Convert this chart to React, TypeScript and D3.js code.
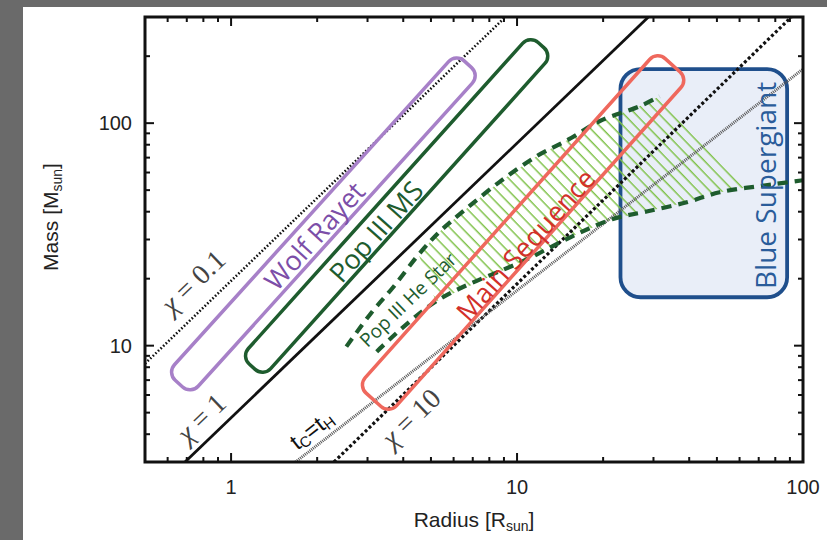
import React from "react";
import * as d3 from "d3";

// axis ticks
const xMajor = [1, 10, 100];
const xMinor = [0.6, 0.7, 0.8, 0.9, 2, 3, 4, 5, 6, 7, 8, 9, 20, 30, 40, 50, 60, 70, 80, 90];
const yMajor = [10, 100];
const yMinor = [4, 5, 6, 7, 8, 9, 20, 30, 40, 50, 60, 70, 80, 90, 200];
const xTickLabels = ["1", "10", "100"];
const yTickLabels = ["10", "100"];

// reference lines [radius, mass]
const chi01 = [[0.5, 8.3], [9.1, 300]];
const chi1 = [[0.69, 3], [28.8, 300]];
const chi10 = [[2.29, 3], [91, 300]];
const tcth = [[1.68, 3], [100, 175]];

// Pop III He star tracks
const heUpper = [[2.53, 9.9], [3.1, 14.1], [3.7, 18.4], [4.53, 25.7], [5.33, 32.3], [6.41, 39.7], [8.65, 54.2], [11.7, 71], [15.2, 84.7], [19.4, 102], [26.8, 119], [31.5, 132]];
const heLower = [[3.23, 9.4], [5.2, 15.8], [10.8, 24.4], [15.6, 31], [21.5, 37], [28.4, 40.1], [39.2, 44.1], [51.1, 48.9], [78.5, 53.1], [100, 55.4]];
const hatchUpper = [[4.53, 25.7], [5.33, 32.3], [6.41, 39.7], [8.65, 54.2], [11.7, 71], [15.2, 84.7], [19.4, 102], [26.8, 119], [31.5, 132]];
const hatchLower = [[5.2, 15.8], [10.8, 24.4], [15.6, 31], [21.5, 37], [28.4, 40.1], [39.2, 44.1], [51.1, 48.9], [62.8, 51.2]];

// stellar classes: box ends along the diagonal [radius, mass]
const boxNames = ["Wolf Rayet", "Pop III MS", "Main Sequence"];
const boxStart = [[0.657, 6.75], [1.185, 8.04], [3.15, 5.71]];
const boxEnd = [[6.73, 184], [12.14, 224], [35.0, 182]];
const boxLabelAt = [[1.95, 31.3], [3.2, 32.7], [10.67, 28.5]];

// blue supergiant region
const bsgR = [23, 88];
const bsgM = [16.5, 175];

const W = 827, H = 540;
const L = 145, R = 803, T = 17, B = 462;
const x = d3.scaleLog().domain([0.5, 100]).range([L, R]);
const y = d3.scaleLog().domain([3, 300]).range([B, T]);
const px = (d: number[]) => [x(d[0]), y(d[1])];
const line = d3.line<number[]>().x(d => x(d[0])).y(d => y(d[1]));
const curve = d3.line<number[]>().x(d => x(d[0])).y(d => y(d[1])).curve(d3.curveCatmullRom);

function DiagBox({ a, b, h, color }: { a: number[]; b: number[]; h: number; color: string }) {
  const [x1, y1] = px(a);
  const [x2, y2] = px(b);
  const len = Math.hypot(x2 - x1, y2 - y1);
  const ang = (Math.atan2(y2 - y1, x2 - x1) * 180) / Math.PI;
  return <rect x={0} y={-h} width={len} height={2 * h} rx={11} fill="none" stroke={color} strokeWidth={3.5}
    transform={`translate(${x1},${y1}) rotate(${ang})`} />;
}

const boxColors = ["#a780c8", "#1e5c2e", "#ef685d"];
const textColors = ["#7c4ea8", "#1e5c2e", "#d2302a"];
const boxHalf = [16, 15, 21];

export default function App() {
  const sans = "Liberation Sans, Arial, sans-serif";
  const label = "Open Sans, sans-serif";
  const serif = "Liberation Serif, DejaVu Serif, serif";
  const hatchPoly = line([...hatchUpper, ...hatchLower.slice().reverse()]) + "Z";

  const rot = (p: number[], q: number[]) => {
    const [a1, b1] = px(p), [a2, b2] = px(q);
    return (Math.atan2(b2 - b1, a2 - a1) * 180) / Math.PI;
  };
  const chiAng = rot(chi1[0], chi1[1]);
  const tcAng = rot(tcth[0], tcth[1]);

  return (
    <div style={{ position: "absolute", left: 0, top: 0 }}>
      <svg width={W} height={H} style={{ display: "block" }}>
        <defs>
          <clipPath id="plot"><rect x={L} y={T} width={R - L} height={B - T} /></clipPath>
          <pattern id="hatch" width={8.5} height={10} patternUnits="userSpaceOnUse" patternTransform="rotate(-44)">
            <line x1={4} y1={0} x2={4} y2={10} stroke="#80c24a" strokeWidth={1.5} />
          </pattern>
        </defs>
        <rect width={W} height={H} fill="#6a6a6a" />
        <rect x={23} y={7} width={W - 23} height={H - 7} fill="#fff" />

        <g clipPath="url(#plot)">
          <rect x={x(bsgR[0])} y={y(bsgM[1])} width={x(bsgR[1]) - x(bsgR[0])} height={y(bsgM[0]) - y(bsgM[1])}
            rx={20} fill="#e9eef8" stroke="#1f4f8c" strokeWidth={3.8} />
          <path d={hatchPoly} fill="url(#hatch)" />
          <path d={line(chi01)!} stroke="#111" strokeWidth={2.6} strokeDasharray="1.6 2" fill="none" />
          <path d={line(chi1)!} stroke="#111" strokeWidth={2.8} fill="none" />
          <path d={line(chi10)!} stroke="#111" strokeWidth={3.2} strokeDasharray="3 2.4" fill="none" />
          <path d={line(tcth)!} stroke="#555" strokeWidth={3} strokeDasharray="1 1" fill="none" />
          <path d={curve(heUpper)!} stroke="#1e5c2e" strokeWidth={4.2} strokeDasharray="10 7" fill="none" />
          <path d={curve(heLower)!} stroke="#1e5c2e" strokeWidth={4.2} strokeDasharray="10 7" fill="none" />
          {boxNames.map((n, i) => (
            <DiagBox key={n} a={boxStart[i]} b={boxEnd[i]} h={boxHalf[i]} color={boxColors[i]} />
          ))}
        </g>

        {boxNames.map((n, i) => {
          const [cx, cy] = px(boxLabelAt[i]);
          return (
            <text key={n} x={cx} y={cy} transform={`rotate(${rot(boxStart[i], boxEnd[i])},${cx},${cy})`}
              textAnchor="middle" dominantBaseline="central" fontFamily={label} fontSize={27} fill={textColors[i]}>{n}</text>
          );
        })}
        {(() => {
          const [cx, cy] = px([4.15, 16.1]);
          return <text x={cx} y={cy} transform={`rotate(-44,${cx},${cy})`} textAnchor="middle"
            dominantBaseline="central" fontFamily={label} fontSize={19} fill="#1e5c2e">Pop III He Star</text>;
        })()}
        {(() => {
          const cx = x(73.6), cy = y(52.5);
          return <text x={cx} y={cy} transform={`rotate(-90,${cx},${cy})`} textAnchor="middle" dominantBaseline="central"
            fontFamily={label} fontSize={28} fill="#2a5c9a">Blue Supergiant</text>;
        })()}

        {[["0.1", 0.736, 19.4], ["1", 0.785, 4.74], ["10", 4.25, 4.74]].map(([v, r, m]) => {
          const cx = x(+r), cy = y(+m);
          return (
            <text key={v as string} x={cx} y={cy} transform={`rotate(${chiAng},${cx},${cy})`} textAnchor="middle"
              dominantBaseline="central" fontFamily={serif} fontSize={28} fill="#444" xmlSpace="preserve">
              <tspan fontStyle="italic">χ</tspan>{" = "}{v}
            </text>
          );
        })}
        {(() => {
          const cx = x(1.91), cy = y(4.19);
          return (
            <text x={cx} y={cy} transform={`rotate(${tcAng},${cx},${cy})`} textAnchor="middle" dominantBaseline="central"
              fontFamily={sans} fontSize={23} fill="#111">
              t<tspan fontSize={15} dy={5}>C</tspan><tspan dy={-5}>=t</tspan><tspan fontSize={15} dy={5}>H</tspan>
            </text>
          );
        })()}

        {/* frame and ticks */}
        <rect x={L} y={T} width={R - L} height={B - T} fill="none" stroke="#111" strokeWidth={3} />
        <g stroke="#111" strokeWidth={2}>
          {xMajor.map(v => (<g key={"xM" + v}>
            <line x1={x(v)} x2={x(v)} y1={B} y2={B - 9} /><line x1={x(v)} x2={x(v)} y1={T} y2={T + 9} /></g>))}
          {xMinor.map(v => (<g key={"xm" + v}>
            <line x1={x(v)} x2={x(v)} y1={B} y2={B - 5} /><line x1={x(v)} x2={x(v)} y1={T} y2={T + 5} /></g>))}
          {yMajor.map(v => (<g key={"yM" + v}>
            <line y1={y(v)} y2={y(v)} x1={L} x2={L + 9} /><line y1={y(v)} y2={y(v)} x1={R} x2={R - 9} /></g>))}
          {yMinor.map(v => (<g key={"ym" + v}>
            <line y1={y(v)} y2={y(v)} x1={L} x2={L + 5} /><line y1={y(v)} y2={y(v)} x1={R} x2={R - 5} /></g>))}
        </g>
        <g fontFamily={sans} fontSize={20} fill="#222">
          {xMajor.map((v, i) => (
            <text key={"xl" + v} x={x(v)} y={B + 32} textAnchor="middle">{xTickLabels[i]}</text>))}
          {yMajor.map((v, i) => (
            <text key={"yl" + v} x={L - 13} y={y(v)} textAnchor="end" dominantBaseline="central">{yTickLabels[i]}</text>))}
          <g fontSize={21}>
            <text x={474} y={527} textAnchor="middle">Radius [R<tspan fontSize={14} dy={4}>sun</tspan><tspan dy={-4}>]</tspan></text>
            <text transform="translate(58,217) rotate(-90)" textAnchor="middle">Mass [M<tspan fontSize={14} dy={4}>sun</tspan><tspan dy={-4}>]</tspan></text>
          </g>
        </g>
      </svg>
    </div>
  );
}
